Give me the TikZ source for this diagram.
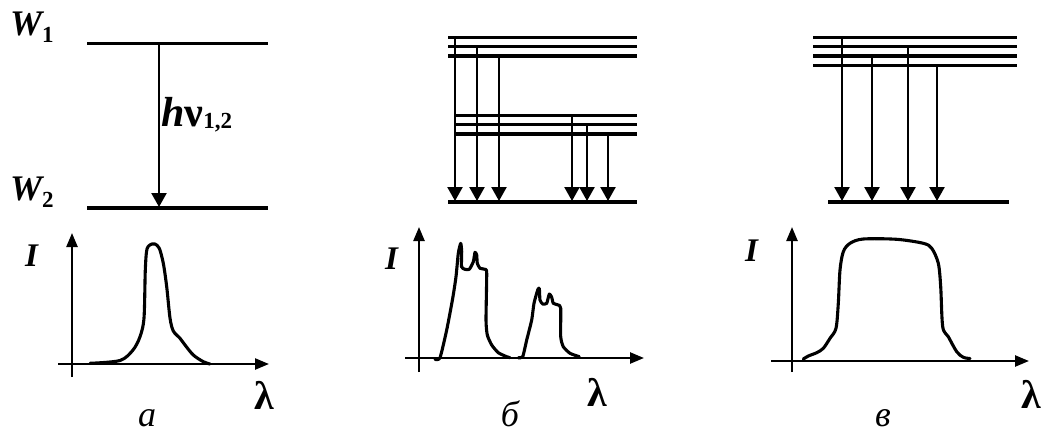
\documentclass[tikz,border=0pt]{standalone}
\usepackage{fontspec}
\setmainfont{Liberation Serif}
\usetikzlibrary{arrows.meta}
\begin{document}
\begin{tikzpicture}[x=1pt,y=-1pt,
  level/.style={line width=3.3pt},
  trans/.style={line width=2.4pt,-{Triangle[length=14pt,width=15pt]}},
  axis/.style={line width=2.4pt,-{Triangle[length=14pt,width=11pt]}},
  spec/.style={line width=3.1pt,line join=round,line cap=round},
  lbl/.style={inner sep=0pt,anchor=base west},
  wlab/.style={lbl,font=\fontsize{36}{36}\selectfont\bfseries\itshape},
  ilab/.style={lbl,font=\fontsize{33}{33}\selectfont\bfseries\itshape},
  lamlab/.style={lbl,font=\fontsize{40}{40}\selectfont\bfseries},
  panlab/.style={inner sep=0pt,anchor=base,font=\fontsize{36}{36}\selectfont\itshape}]
\useasboundingbox (0,0) rectangle (1043,434);
\newcommand{\subsc}[1]{\raisebox{-7pt}{\fontsize{23}{23}\selectfont\upshape #1}}
% ---------- panel a ----------
\coordinate (a1L) at (87,43.5);  \coordinate (a1R) at (268,43.5);
\coordinate (a2L) at (87,208);   \coordinate (a2R) at (268,208);
\draw[level] (a1L) -- (a1R);
\draw[level] (a2L) -- (a2R);
\coordinate (aT) at (159,43.5);  \coordinate (aB) at (159,207);
\draw[trans] (aT) -- (aB);
\node[wlab] (W1) at (10,35) {W\subsc{1}};
\node[wlab] (W2) at (10,200) {W\subsc{2}};
\node[lbl,font=\fontsize{42}{42}\selectfont\bfseries] (hv) at (161,126)
  {\itshape h\upshape ν\raisebox{-2pt}{\fontsize{23}{23}\selectfont 1,2}};
% axes a
\coordinate (ayB) at (72,377); \coordinate (ayT) at (72,233);
\coordinate (axL) at (58,364); \coordinate (axR) at (269,364);
\draw[axis] (ayB) -- (ayT);
\draw[axis] (axL) -- (axR);
\node[ilab] (Ia) at (25,266) {I};
\node[lamlab] (La) at (254,409) {λ};
\node[panlab] (pa) at (147,426) {а};
\draw[spec] plot[smooth,tension=0.5] coordinates {(90,363.3) (120,360.5) (133,350) (140,336.7) (144,318) (145.3,270) (147,249) (151.7,244) (155,244) (159.3,248.3) (163.3,263.3) (166.7,286.7) (170,318) (173.3,331) (180,338.3) (185,345) (193.3,355) (203.3,361.7) (210,364)};
% ---------- panel b ----------
\foreach \y/\n in {37.3/1,46.7/2,56/3}{
  \coordinate (bu\n L) at (448,\y); \coordinate (bu\n R) at (637,\y);
  \draw[level] (bu\n L) -- (bu\n R);}
\foreach \y/\n in {115.7/1,124.3/2,134/3}{
  \coordinate (bm\n L) at (455,\y); \coordinate (bm\n R) at (637,\y);
  \draw[level] (bm\n L) -- (bm\n R);}
\coordinate (bbL) at (448,202); \coordinate (bbR) at (637,202);
\draw[level] (bbL) -- (bbR);
\foreach \x/\y/\n in {455/37.3/1,477/46.7/2,499/56/3,572/115.7/4,587/124.3/5,608/134/6}{
  \coordinate (bs\n) at (\x,\y); \coordinate (be\n) at (\x,201);
  \draw[trans] (bs\n) -- (be\n);}
\coordinate (byB) at (419,372); \coordinate (byT) at (419,227);
\coordinate (bxL) at (405,358); \coordinate (bxR) at (644,358);
\draw[axis] (byB) -- (byT);
\draw[axis] (bxL) -- (bxR);
\node[ilab] (Ib) at (385,269) {I};
\node[lamlab] (Lb) at (587,406) {λ};
\node[panlab] (pb) at (510,426) {б};
\draw[spec] plot[smooth,tension=0.35] coordinates {(435,359.3) (440,357.7) (446.7,330) (452.7,298.3) (456,276.7) (458.3,253.3) (460.7,243.3) (461.7,251.7) (461.5,266.7) (465,269.3) (469.3,269.3) (473.3,261.7) (475,252.3) (476.7,255) (477.3,263.3) (480,268.3) (485,269.3) (486.7,273.3) (486,320) (487.3,335) (491.7,345) (498.3,352.7) (506.7,356.7) (510,357.7)};
\draw[spec] plot[smooth,tension=0.35] coordinates {(518.3,357.7) (522.7,356.7) (526.7,340) (531.7,320) (534,303.3) (537.7,290) (539.3,288.3) (540,300) (542.7,304) (546.7,303.3) (549.3,294) (551.7,297.3) (553.3,303.3) (558.3,305) (560.7,308.3) (560.7,336.7) (563.3,346.7) (570,353.3) (579.3,356.7)};
% ---------- panel v ----------
\foreach \y/\n in {37.7/1,46.7/2,56/3,65.3/4}{
  \coordinate (vu\n L) at (813,\y); \coordinate (vu\n R) at (1017,\y);
  \draw[level] (vu\n L) -- (vu\n R);}
\coordinate (vbL) at (828,202); \coordinate (vbR) at (1009,202);
\draw[level] (vbL) -- (vbR);
\foreach \x/\y/\n in {842/37.7/1,872/56/2,908/46.7/3,937/65.3/4}{
  \coordinate (vs\n) at (\x,\y); \coordinate (ve\n) at (\x,201);
  \draw[trans] (vs\n) -- (ve\n);}
\coordinate (vyB) at (792,372); \coordinate (vyT) at (792,227);
\coordinate (vxL) at (771,361); \coordinate (vxR) at (1029,361);
\draw[axis] (vyB) -- (vyT);
\draw[axis] (vxL) -- (vxR);
\node[ilab] (Iv) at (745,261) {I};
\node[lamlab] (Lv) at (1021,408) {λ};
\node[panlab] (pv) at (883,426) {в};
\draw[spec] plot[smooth,tension=0.5] coordinates {(803.3,359) (808.3,356) (816.7,352.7) (823.3,348.3) (830,338.3) (836,328.3) (838.3,303.3) (840,270) (843.3,251.7) (850,243.3) (863.3,239) (896.7,239.3) (923.3,243.3) (931.7,248.3) (938.3,263.3) (940.7,286.7) (942.7,326.7) (948.3,336.7) (956.7,351.7) (963.3,357.3) (970,358.5)};
\end{tikzpicture}
\end{document}
